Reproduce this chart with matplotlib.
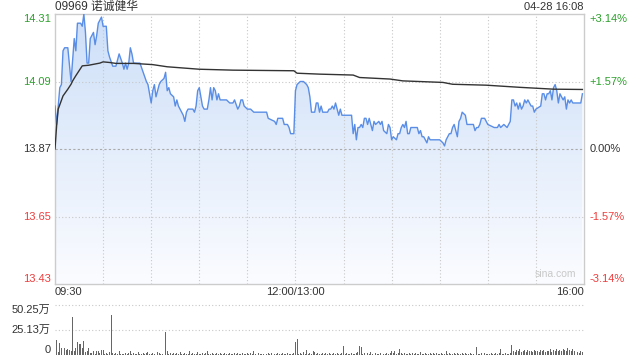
import numpy as np
import matplotlib
matplotlib.use("Agg")
import matplotlib.pyplot as plt
from matplotlib.colors import LinearSegmentedColormap
from matplotlib.patches import PathPatch

plt.rcParams['font.family'] = ['Liberation Sans', 'Noto Sans CJK SC', 'DejaVu Sans']

# ---------------- data ----------------
title = "09969 诺诚健华"
stamp = "04-28 16:08"
prev_close = 13.87
price_ticks = [14.31, 14.09, 13.87, 13.65, 13.43]
pct_labels = ["+3.14%", "+1.57%", "0.00%", "-1.57%", "-3.14%"]
time_labels = ["09:30", "12:00/13:00", "16:00"]
vol_ticks = [50.25, 25.13, 0]
vol_tick_labels = ["50.25万", "25.13万", "0"]

# minutes since 09:30 on the trading-time axis (lunch removed), price
price_t = [0, 1, 3, 4, 5, 6, 8, 10, 12, 13, 14, 16, 17, 18, 19, 20, 21, 22, 24, 25,
           26, 27, 28, 29, 30, 32, 33, 34, 36, 38, 39, 40, 42, 43, 44, 45, 46, 47, 48, 49,
           51, 53, 55, 57, 58, 60, 61, 62, 63, 65, 66, 68, 69, 70, 71, 72, 74, 75, 76, 77,
           78, 80, 81, 82, 83, 84, 86, 87, 88, 89, 90, 92, 93, 95, 96, 97, 98, 99, 100, 101,
           102, 103, 105, 107, 109, 111, 112, 114, 115, 116, 117, 118, 120, 122, 124, 132, 133, 137, 138, 139,
           142, 143, 145, 146, 147, 149, 150, 151, 153, 155, 157, 158, 159, 160, 162, 163, 164, 165, 166, 167,
           170, 171, 172, 173, 174, 175, 176, 177, 178, 179, 185, 186, 187, 188, 189, 190, 191, 192, 193, 194,
           195, 196, 198, 199, 200, 202, 203, 204, 205, 207, 208, 209, 210, 211, 213, 214, 215, 216, 217, 218,
           219, 220, 221, 222, 226, 227, 228, 229, 230, 231, 232, 233, 234, 236, 240, 242, 243, 244, 245, 246,
           247, 248, 249, 251, 252, 253, 254, 256, 257, 261, 262, 263, 264, 265, 266, 268, 270, 274, 276, 277,
           278, 280, 282, 284, 285, 286, 287, 288, 289, 290, 291, 292, 293, 294, 295, 296, 297, 298, 299, 300,
           303, 304, 305, 306, 307, 308, 309, 310, 311, 312, 313, 314, 315, 316, 317, 318, 319, 320, 321, 322,
           323, 325, 328, 329]
price_v = [14.01, 13.95, 14.07, 14.08, 14.19, 14.20, 14.20, 14.09, 14.23, 14.19, 14.28, 14.28, 14.27, 14.31, 14.25, 14.15, 14.15, 14.23, 14.25, 14.21,
           14.24, 14.28, 14.29, 14.30, 14.27, 14.27, 14.19, 14.17, 14.14, 14.14, 14.16, 14.18, 14.15, 14.13, 14.15, 14.13, 14.15, 14.20, 14.18, 14.15,
           14.15, 14.15, 14.12, 14.09, 14.08, 14.02, 14.06, 14.08, 14.04, 14.08, 14.09, 14.10, 14.12, 14.06, 14.07, 14.05, 14.04, 14.01, 14.03, 14.01,
           14.00, 13.98, 13.96, 13.99, 14.00, 14.00, 14.00, 13.99, 14.01, 14.06, 14.07, 14.01, 14.00, 14.00, 14.03, 14.07, 14.03, 14.07, 14.06, 14.03,
           14.05, 14.03, 14.03, 14.03, 14.02, 14.02, 14.03, 14.00, 14.01, 14.03, 14.03, 14.01, 14.00, 14.00, 13.99, 13.99, 13.97, 13.96, 13.95, 13.97,
           13.97, 13.95, 13.95, 13.94, 13.92, 13.92, 14.06, 14.08, 14.09, 14.09, 14.08, 14.07, 14.04, 13.99, 13.99, 14.02, 14.02, 13.99, 14.01, 13.99,
           13.99, 14.00, 14.00, 14.01, 14.00, 14.02, 14.00, 13.98, 14.00, 13.98, 13.98, 13.92, 13.95, 13.90, 13.94, 13.94, 13.95, 13.94, 13.97, 13.97,
           13.95, 13.97, 13.93, 13.96, 13.95, 13.96, 13.95, 13.96, 13.93, 13.92, 13.95, 13.94, 13.90, 13.91, 13.90, 13.92, 13.92, 13.94, 13.95, 13.94,
           13.96, 13.92, 13.92, 13.94, 13.94, 13.92, 13.93, 13.91, 13.91, 13.90, 13.89, 13.91, 13.90, 13.90, 13.90, 13.89, 13.88, 13.90, 13.91, 13.92,
           13.92, 13.94, 13.95, 13.91, 13.96, 13.97, 13.99, 13.98, 13.95, 13.95, 13.93, 13.94, 13.94, 13.95, 13.97, 13.97, 13.95, 13.94, 13.94, 13.95,
           13.94, 13.95, 13.94, 13.96, 14.03, 14.03, 14.01, 14.02, 14.00, 14.02, 14.00, 14.01, 14.03, 14.02, 14.03, 14.02, 14.01, 14.01, 13.99, 14.00,
           14.01, 14.05, 14.05, 14.03, 14.05, 14.05, 14.06, 14.03, 14.07, 14.08, 14.06, 14.02, 14.05, 14.04, 14.03, 14.04, 14.00, 14.03, 14.02, 14.03,
           14.02, 14.02, 14.02, 14.05]

avg_t = [0, 1, 2, 5, 8, 10, 11, 13, 17, 21, 28, 30, 34, 38, 49, 61, 70, 90, 111, 149,
         151, 165, 186, 190, 209, 217, 242, 248, 269, 290, 311, 329]
avg_v = [13.87, 13.945, 14.00, 14.043, 14.065, 14.081, 14.092, 14.109, 14.141, 14.143,
         14.150, 14.154, 14.152, 14.149, 14.149, 14.145, 14.138, 14.130, 14.127, 14.125,
         14.117, 14.114, 14.111, 14.103, 14.098, 14.092, 14.087, 14.081, 14.078, 14.071,
         14.065, 14.064]

# per-minute volume (万股), minute 0..330
volume = [
    18.7, 14.7, 3.0, 12.0, 7.0, 18.7, 7.5, 5.3, 6.0, 5.0,
    3.7, 38.0, 4.0, 7.0, 13.0, 11.0, 11.0, 7.0, 13.7, 3.0,
    4.0, 7.0, 2.0, 2.5, 4.0, 1.5, 4.0, 4.5, 2.0, 5.0,
    5.0, 1.5, 2.3, 1.5, 3.0, 40.0, 2.5, 1.5, 2.0, 1.5,
    4.0, 1.2, 0.8, 1.5, 2.5, 1.0, 1.8, 3.7, 1.2, 2.0,
    1.0, 1.5, 2.8, 1.0, 1.3, 2.2, 1.0, 1.8, 3.0, 1.2,
    1.5, 2.5, 1.0, 1.2, 3.5, 1.8, 1.0, 1.5, 7.7, 23.0,
    4.0, 1.5, 2.0, 1.0, 2.5, 1.2, 1.8, 1.0, 3.0, 1.5,
    1.0, 2.2, 1.5, 1.0, 4.3, 1.2, 2.0, 1.0, 1.5, 2.8,
    1.0, 1.5, 2.2, 1.0, 1.8, 4.5, 1.2, 1.0, 2.0, 1.5,
    1.0, 2.5, 1.2, 1.8, 1.0, 1.5, 2.2, 1.0, 1.3, 2.0,
    1.0, 1.5, 2.5, 1.0, 1.8, 1.2, 1.0, 2.0, 1.5, 1.0,
    1.8, 1.2, 2.2, 1.0, 4.5, 1.5, 1.0, 2.0, 1.2, 1.0,
    1.5, 2.0, 1.0, 1.8, 1.2, 2.2, 1.0, 1.5, 1.0, 2.0,
    1.2, 1.0, 1.8, 1.5, 1.0, 2.0, 1.2, 1.5, 1.0, 2.5,
    12.7, 16.0, 1.5, 2.0, 1.2, 3.0, 1.0, 5.3, 1.5, 2.5,
    1.0, 3.7, 3.5, 1.2, 2.0, 1.0, 1.5, 2.2, 1.0, 1.8,
    1.2, 2.0, 1.0, 1.5, 2.5, 1.0, 1.8, 1.2, 1.0, 2.0,
    9.3, 1.5, 2.0, 1.2, 1.0, 2.5, 1.5, 1.0, 2.0, 3.0,
    9.0, 8.5, 1.5, 2.2, 1.0, 1.8, 1.2, 3.0, 1.0, 1.5,
    2.0, 1.2, 1.0, 1.8, 2.5, 1.0, 1.5, 2.2, 1.0, 1.8,
    4.0, 2.0, 4.0, 1.5, 2.2, 6.0, 1.8, 1.2, 2.0, 1.0,
    1.5, 2.5, 1.0, 1.8, 1.2, 2.0, 1.0, 1.5, 3.0, 1.2,
    1.0, 2.0, 1.5, 1.0, 2.2, 1.2, 1.8, 1.0, 2.5, 1.5,
    1.0, 2.0, 1.2, 1.5, 3.7, 1.0, 2.2, 1.2, 1.0, 1.8,
    1.5, 2.0, 1.0, 1.2, 2.5, 1.0, 1.8, 1.5, 1.0, 2.0,
    1.2, 1.0, 2.2, 8.3, 1.5, 1.0, 1.8, 1.2, 2.0, 1.0,
    1.5, 1.2, 2.0, 1.0, 1.5, 2.2, 1.0, 1.8, 5.7, 1.5,
    1.0, 2.0, 1.2, 1.5, 2.5, 10.0, 4.5, 3.0, 5.5, 4.0,
    6.5, 3.5, 4.5, 5.5, 3.0, 5.0, 4.0, 4.5, 3.5, 5.0,
    4.0, 4.5, 3.0, 5.0, 4.0, 5.5, 3.5, 4.5, 4.0, 6.0,
    3.5, 5.0, 4.5, 6.5, 4.0, 5.5, 4.0, 6.0, 5.0, 4.5,
    7.5, 5.0, 4.0, 6.0, 4.5, 3.0, 3.5, 2.5, 4.0, 3.0,
    50.25,
]

# ---------------- style ----------------
GREEN = '#2ca02c'
RED = '#f03c3c'
DARK = '#333333'
GRID = '#c8c8c8'
LINE = '#5a8ee6'
T_MAX = 330
Y_MIN, Y_MAX = price_ticks[-1], price_ticks[0]

fig = plt.figure(figsize=(6.4, 3.6), dpi=100)
W, H = 640, 360
ax = fig.add_axes([55 / W, 1 - 284 / H, (584 - 55) / W, 270 / H])
axv = fig.add_axes([55 / W, 1 - 355 / H, (584 - 55) / W, 50 / H])

# gradient fill under the price line
fb = ax.fill_between(price_t, price_v, Y_MIN, color='none', lw=0)
grad = np.linspace(0, 1, 256).reshape(-1, 1)
cmap = LinearSegmentedColormap.from_list('g', ['#fbfcff', '#cddff8'])
im = ax.imshow(grad, extent=[0, T_MAX, Y_MIN, Y_MAX], origin='lower',
               cmap=cmap, aspect='auto', zorder=1, interpolation='bilinear')
im.set_clip_path(PathPatch(fb.get_paths()[0], transform=ax.transData))

ax.plot(price_t, price_v, color=LINE, lw=1.0, zorder=3)
ax.plot(avg_t, avg_v, color=DARK, lw=1.0, zorder=4)

ax.set_xlim(0, T_MAX)
ax.set_ylim(Y_MIN, Y_MAX)
ax.set_xticks([])
ax.set_yticks([])
for s in ax.spines.values():
    s.set_color('#cccccc')
    s.set_linewidth(1.0)

# grid
for t in range(30, T_MAX, 30):
    ax.axvline(t, color=GRID, lw=0.8, ls=(0, (1, 2)), zorder=2)
for p in price_ticks[1:-1]:
    if p == prev_close:
        ax.axhline(p, color='#aaaaaa', lw=0.8, ls=(0, (2, 2)), zorder=2)
    else:
        ax.axhline(p, color=GRID, lw=0.8, ls=(0, (1, 2)), zorder=2)

# y labels
ytr = ax.get_yaxis_transform()
colors = [GREEN, GREEN, DARK, RED, RED]
vas = ['top', 'center', 'center', 'center', 'bottom']
for p, pl, c, va in zip(price_ticks, pct_labels, colors, vas):
    ax.text(-0.008, p, f"{p:.2f}", transform=ytr, ha='right', va=va, color=c, fontsize=8)
    ax.text(1.011, p, pl, transform=ytr, ha='left', va=va, color=c, fontsize=8)

# time labels
xtr = ax.get_xaxis_transform()
ax.text(0, -0.03, time_labels[0], transform=xtr, ha='left', va='center', fontsize=8, color=DARK)
ax.text(150, -0.03, time_labels[1], transform=xtr, ha='center', va='center', fontsize=8, color=DARK)
ax.text(T_MAX, -0.03, time_labels[2], transform=xtr, ha='right', va='center', fontsize=8, color=DARK)

ax.text(0.985, 0.02, "sina.com", transform=ax.transAxes, ha='right', va='bottom',
        fontsize=7.5, color='#c8c8c8')

fig.text(55 / W, 1 - 7 / H, title, ha='left', va='center', fontsize=8.5, color=DARK)
fig.text(584 / W, 1 - 7 / H, stamp, ha='right', va='center', fontsize=8, color=DARK)

# volume
vt = np.arange(len(volume))
axv.bar(vt, volume, width=0.6, color='#666666', lw=0, zorder=3, clip_on=False)
axv.set_xlim(0, T_MAX)
axv.set_ylim(0, vol_ticks[0])
axv.set_xticks([])
axv.set_yticks([])
for s in axv.spines.values():
    s.set_visible(False)
for v in vol_ticks[:2]:
    axv.axhline(v, color=GRID, lw=0.8, ls=(0, (1, 2)), zorder=1, clip_on=False)
vtr = axv.get_yaxis_transform()
for v, lab, va in zip(vol_ticks, vol_tick_labels, ['top', 'center', 'bottom']):
    axv.text(-0.008, v, lab, transform=vtr, ha='right', va=va, fontsize=8, color=DARK)

fig.savefig("out.png", dpi=100)
